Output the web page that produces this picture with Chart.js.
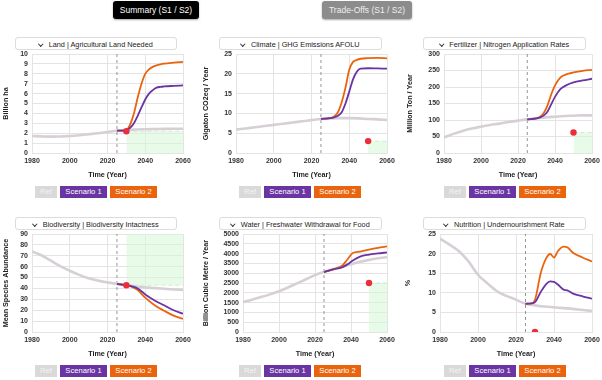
<!DOCTYPE html>
<html>
<head>
<meta charset="utf-8">
<script src="https://cdn.jsdelivr.net/npm/chart.js@4.4.1/dist/chart.umd.min.js"></script>
<style>
  html, body { margin: 0; padding: 0; background: #fff; }
  body { width: 602px; height: 380px; position: relative; overflow: hidden;
         font-family: "Liberation Sans", Arial, sans-serif; }
  .tab { position: absolute; top: 1px; height: 18px; line-height: 18px; border-radius: 3px;
         color: #fff; font-size: 8.5px; text-align: center; box-shadow: 0 1px 2px rgba(0,0,0,.35); }
  .ttl { position: absolute; height: 13px; line-height: 13px; background: #fff; border: 1px solid #dcdcdc;
         border-radius: 3px; font-size: 7.3px; color: #222; text-align: center; box-sizing: border-box; }
  .chev { display: inline-block; width: 2.5px; height: 2.5px; border-right: 1.2px solid #333;
          border-bottom: 1.2px solid #333; transform: rotate(45deg); margin: 0 6px 2px 0; }
  canvas { position: absolute; }
  .btn { position: absolute; height: 12px; line-height: 12px; font-size: 7.6px; color: #fff; text-align: center; }
  .b0 { background: #d9d9d9; color: #f4f4f4; }
  .b1 { background: #6a34a2; }
  .b2 { background: #ea640e; }
</style>
</head>
<body>
<div class="tab" style="left:113px;width:86px;background:#000;">Summary (S1 / S2)</div>
<div class="tab" style="left:322px;width:90px;background:#8c8c8c;color:#eee;">Trade-Offs (S1 / S2)</div>

<script>
// reference years shared by all "Ref" series
const refYears = [1980,1985,1990,1995,2000,2005,2010,2015,2020,2025,2030,2035,2040,2045,2050,2055,2060];

// Land | Agricultural Land Needed (billion ha)
const landRef = [1.72,1.68,1.65,1.66,1.72,1.8,1.9,2.0,2.12,2.25,2.33,2.37,2.4,2.42,2.44,2.45,2.45];
const landScenYears = [2025,2030,2032,2034,2036,2038,2040,2042,2044,2046,2048,2050,2055,2060];
const landS1 = [2.25,2.32,2.55,3.0,3.75,4.6,5.4,6.0,6.35,6.6,6.68,6.72,6.78,6.83];
const landS2 = [2.25,2.32,2.9,4.0,5.6,7.0,8.0,8.45,8.7,8.85,8.95,9.02,9.12,9.2];

// Climate | GHG Emissions AFOLU (Gt CO2eq / yr)
const climateRef = [5.9,6.2,6.5,6.8,7.1,7.4,7.7,8.0,8.3,8.6,8.75,8.8,8.8,8.75,8.6,8.5,8.35];
const climateScenYears = [2025,2030,2032,2034,2036,2038,2040,2042,2044,2046,2050,2055,2060];
const climateS1 = [8.6,8.8,9.0,9.4,10.3,12.5,15.5,18.6,20.5,21.3,21.4,21.35,21.3];
const climateS2 = [8.6,8.8,9.2,10.3,12.8,16.5,21.0,23.0,23.5,23.8,23.95,24.0,23.9];

// Fertilizer | Nitrogen Application Rates (Mt / yr)
const fertRef = [47,58,67,74,80,85,89,94,98,102,105,108,110,112,113,114,114];
const fertScenYears = [2025,2030,2032,2034,2036,2038,2040,2043,2046,2050,2055,2060];
const fertS1 = [102,105,108,114,126,148,170,194,205,214,220,225];
const fertS2 = [102,105,110,122,145,178,205,229,238,244,249,252];

// Biodiversity | Biodiversity Intactness (MSA)
const bioRef = [74,70.5,65.5,60.5,56.3,52.5,49.3,47.2,45.6,44.2,43,41.8,41,40.3,39.7,39.1,38.6];
const bioScenYears = [2025,2030,2033,2036,2040,2045,2050,2055,2060];
const bioS1 = [44.2,43,42,40,34.5,29,24.5,20,16.8];
const bioS2 = [44.2,43,41.5,38.5,31.5,24.5,19.5,15,12];

// Water | Freshwater Withdrawal for Food (billion m3 / yr)
const waterRef = [1530,1650,1780,1920,2080,2270,2480,2690,2900,3060,3200,3330,3460,3580,3680,3760,3820];
const waterScenYears = [2025,2030,2035,2038,2041,2045,2050,2055,2060];
const waterS1 = [3060,3200,3300,3450,3650,3850,3950,4010,4060];
const waterS2 = [3060,3200,3380,3700,4030,4100,4200,4290,4370];

// Nutrition | Undernourishment Rate (%)
const nutRef = [23.8,22.3,20.6,18,14.6,12.4,10.4,9.2,8.25,7.2,6.8,6.5,6.3,6.1,5.9,5.6,5.4];
const nutScenYears = [2025,2028,2030,2033,2036,2038,2040,2042,2045,2047,2050,2055,2060];
const nutS1 = [7.2,7.3,7.6,10.2,12.3,12.9,12.8,12.1,10.8,10.6,9.8,9.1,8.5];
const nutS2 = [7.2,7.3,8.2,15.0,18.9,19.9,19.0,20.6,21.8,21.6,20.2,19.0,18.0];

// targets (red dot + green zone)
const targetYears  = [2030, 2050, 2050, 2030, 2050, 2030];
const targetValues = [2.2, 3, 62, 43, 2500, 0];
const targetSide   = ['below', 'below', 'below', 'above', 'below', 'none'];

const titles = ['Land | Agricultural Land Needed', 'Climate | GHG Emissions AFOLU',
  'Fertilizer | Nitrogen Application Rates', 'Biodiversity | Biodiversity Intactness',
  'Water | Freshwater Withdrawal for Food', 'Nutrition | Undernourishment Rate'];
const yTitles = ['Billion ha', 'Gigaton CO2eq / Year', 'Million Ton / Year',
  'Mean Species Abundance', 'Billion Cubic Metre / Year', '%'];
const yMaxes = [10, 25, 300, 90, 5000, 25];
const ySteps = [1, 5, 50, 10, 500, 5];
const xTicks = [1980, 2000, 2020, 2040, 2060];
const nowYear = 2025;

const panels = [
  { ref: landRef,    sy: landScenYears,    s1: landS1,    s2: landS2 },
  { ref: climateRef, sy: climateScenYears, s1: climateS1, s2: climateS2 },
  { ref: fertRef,    sy: fertScenYears,    s1: fertS1,    s2: fertS2 },
  { ref: bioRef,     sy: bioScenYears,     s1: bioS1,     s2: bioS2 },
  { ref: waterRef,   sy: waterScenYears,   s1: waterS1,   s2: waterS2 },
  { ref: nutRef,     sy: nutScenYears,     s1: nutS1,     s2: nutS2 }
];

// layout of each card: canvas box, y axis width, right padding, title box, button row
const boxes = [
  { l: 0,   t: 44,  w: 200, h: 139, yw: 32, pr: 17, tl: 15,  tt: 37,  tw: 162, bl: 35,  bt: 186 },
  { l: 200, t: 44,  w: 200, h: 139, yw: 36, pr: 13, tl: 219, tt: 37,  tw: 163, bl: 239, bt: 186 },
  { l: 404, t: 44,  w: 210, h: 139, yw: 40, pr: 22, tl: 423, tt: 37,  tw: 163, bl: 444, bt: 186 },
  { l: 0,   t: 224, w: 200, h: 138, yw: 32, pr: 17, tl: 15,  tt: 217, tw: 162, bl: 35,  bt: 365 },
  { l: 200, t: 224, w: 200, h: 138, yw: 43, pr: 13, tl: 219, tt: 217, tw: 163, bl: 239, bt: 365 },
  { l: 402, t: 224, w: 210, h: 138, yw: 38, pr: 20, tl: 423, tt: 217, tw: 163, bl: 444, bt: 365 }
];

Chart.defaults.font.family = '"Liberation Sans", Arial, sans-serif';
Chart.defaults.font.size = 7;
Chart.defaults.color = '#333';

const xy = (xs, ys) => xs.map((x, i) => ({ x: x, y: ys[i] }));

function addDiv(cls, css, html) {
  var d = document.createElement('div');
  d.className = cls;
  d.style.cssText = css;
  d.innerHTML = html;
  document.body.appendChild(d);
}

panels.forEach(function(p, i) {
  var b = boxes[i];
  addDiv('ttl', 'left:' + b.tl + 'px;top:' + b.tt + 'px;width:' + b.tw + 'px;',
    '<span class="chev"></span>' + titles[i]);
  addDiv('btn b0', 'left:' + b.bl + 'px;top:' + b.bt + 'px;width:22px;', 'Ref');
  addDiv('btn b1', 'left:' + (b.bl + 25) + 'px;top:' + b.bt + 'px;width:47px;', 'Scenario 1');
  addDiv('btn b2', 'left:' + (b.bl + 75) + 'px;top:' + b.bt + 'px;width:47px;', 'Scenario 2');

  var cv = document.createElement('canvas');
  cv.width = b.w; cv.height = b.h;
  cv.style.left = b.l + 'px'; cv.style.top = b.t + 'px';
  document.body.appendChild(cv);

  var tY = targetYears[i], tV = targetValues[i], side = targetSide[i];
  var datasets = [
    { data: [{ x: tY, y: tV }], showLine: false, pointRadius: 3.2, pointBackgroundColor: '#ec2d3a',
      pointBorderWidth: 0 },
    { data: xy(p.sy, p.s1), borderColor: '#6a34a2', borderWidth: 1.8 },
    { data: xy(p.sy, p.s2), borderColor: '#ea640e', borderWidth: 1.8 },
    { data: xy(refYears, p.ref), borderColor: '#d6d0d6', borderWidth: 2.6 },
    { data: [{ x: nowYear, y: 0 }, { x: nowYear, y: yMaxes[i] }], borderColor: '#8a8a8a',
      borderWidth: 0.9, borderDash: [3, 3], cubicInterpolationMode: 'default', tension: 0 }
  ];
  if (side !== 'none') {
    datasets.push({ data: [{ x: tY, y: tV }, { x: 2060, y: tV }], borderColor: '#cdeecd',
      borderWidth: 1, borderDash: [4, 3], tension: 0, cubicInterpolationMode: 'default',
      fill: side === 'above' ? 'end' : 'origin', backgroundColor: 'rgba(214,245,214,0.55)' });
  }

  new Chart(cv.getContext('2d'), {
    type: 'line',
    data: { datasets: datasets },
    options: {
      responsive: false,
      animation: false,
      layout: { padding: { top: 10, right: b.pr, left: 0, bottom: 0 } },
      elements: { point: { radius: 0 }, line: { cubicInterpolationMode: 'monotone', fill: false } },
      plugins: { legend: { display: false }, tooltip: { enabled: false } },
      scales: {
        x: {
          type: 'linear', min: 1980, max: 2060,
          afterBuildTicks: function(s) { s.ticks = xTicks.map(v => ({ value: v })); },
          ticks: { font: { weight: 'bold' }, padding: 4, maxRotation: 0, autoSkip: false, color: '#333',
                   callback: v => String(v) },
          grid: { color: '#e4e4e4', drawTicks: false },
          border: { color: '#e4e4e4' },
          title: { display: true, text: 'Time (Year)', font: { weight: 'bold', size: 7.2 }, color: '#222',
                   padding: { top: 2, bottom: 4 } },
          afterFit: function(s) { s.height = 30; }
        },
        y: {
          min: 0, max: yMaxes[i],
          ticks: { stepSize: ySteps[i], font: { weight: 'bold' }, padding: 4, autoSkip: false, color: '#333',
                   callback: v => String(v) },
          grid: { color: '#e4e4e4', drawTicks: false },
          border: { color: '#e4e4e4' },
          title: { display: true, text: yTitles[i], font: { weight: 'bold', size: 7.2 }, color: '#222',
                   padding: { top: 2, bottom: 2 } },
          afterFit: function(s) { s.width = b.yw; }
        }
      }
    }
  });
});
</script>
</body>
</html>
